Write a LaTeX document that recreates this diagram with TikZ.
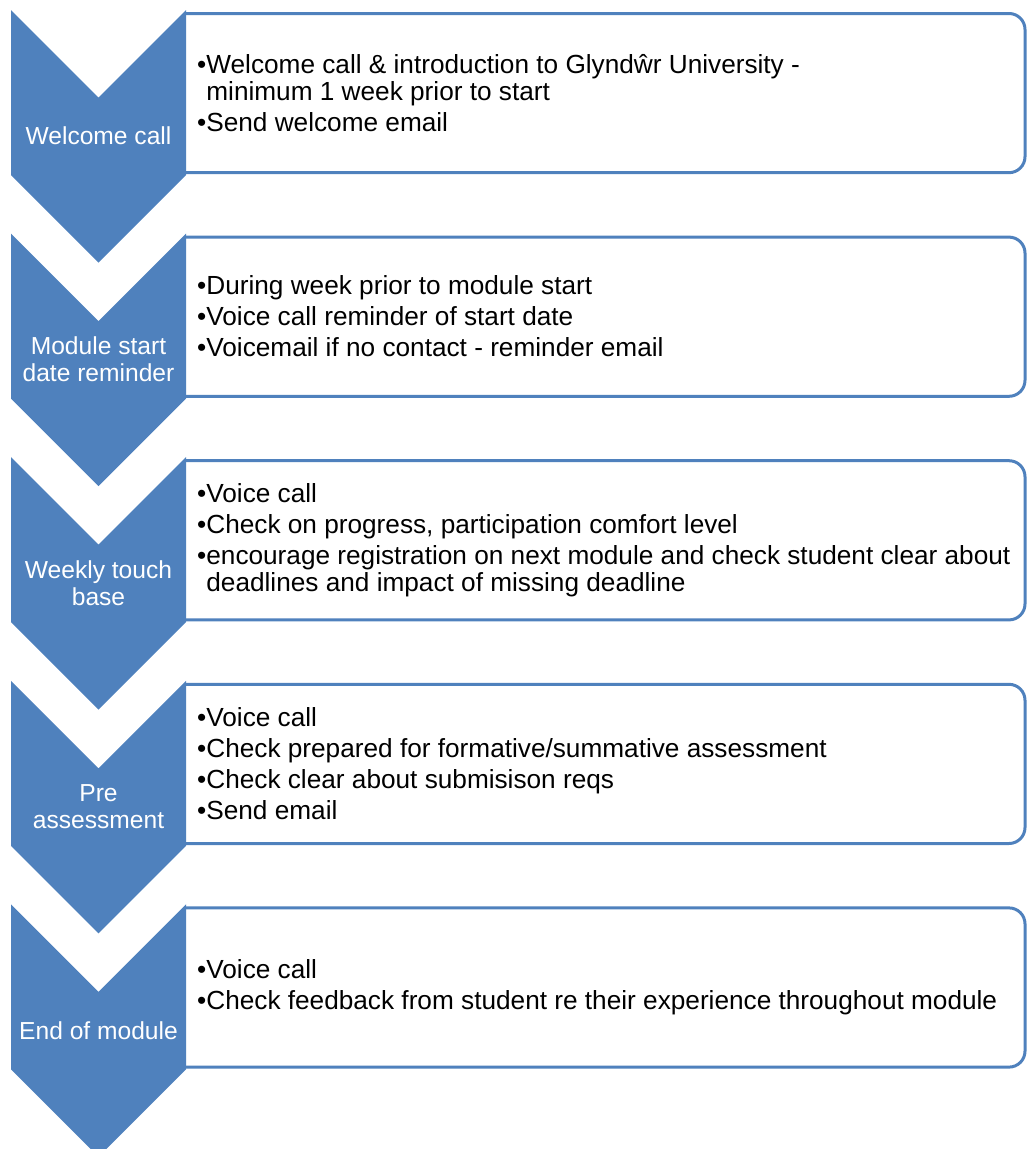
\documentclass[tikz,border=0pt]{standalone}
\usepackage{fontspec}
\setmainfont{Liberation Sans}
\definecolor{chev}{HTML}{4F81BD}
\newcommand{\bl}{\textbullet}
\newcommand{\hang}{\phantom{\textbullet}}
\begin{document}
\begin{tikzpicture}[x=1pt,y=-1pt,
  chevshape/.style={fill=chev},
  listbox/.style={draw=chev,line width=3pt,fill=white,rounded corners=16pt},
  chevlabel/.style={text=white,align=center,inner sep=0pt,font=\fontsize{24.6}{27}\selectfont},
  itemtext/.style={anchor=west,align=left,inner sep=0pt,font=\fontsize{26.2}{27}\selectfont}]
\useasboundingbox (0,0) rectangle (1027,1149);
\clip (0,0) rectangle (1027,1149);
\def\P{223.6}
% rectangles
\foreach \k in {0,...,4}{
  \pgfmathsetmacro{\Ta}{13.5+\P*\k}
  \pgfmathsetmacro{\Tb}{172.7+\P*\k}
  \filldraw[listbox] (186,\Ta) -- (1025,\Ta) -- (1025,\Tb) -- (186,\Tb);
}
% chevrons
\foreach \k in {0,...,4}{
  \pgfmathsetmacro{\T}{10+\P*\k}
  \fill[chevshape] (11,\T) -- (98.5,\T+87.5) -- (186,\T) -- (186,\T+165) -- (98.5,\T+252.5) -- (11,\T+165) -- cycle;
}
% labels
\node[chevlabel] (l1) at (98.5,136) {Welcome call};
\node[chevlabel] (l2) at (98.5,136+\P) {Module start\\date reminder};
\node[chevlabel] (l3) at (98.5,136+2*\P) {Weekly touch\\base};
\node[chevlabel] (l4) at (98.5,136+3*\P) {Pre\\assessment};
\node[chevlabel] (l5) at (98.5,136+4*\P) {End of module};
% texts
\node[itemtext] (t1) at (197,93) {\bl Welcome call \& introduction to Glynd\^wr University -\\\hang minimum 1 week prior to start\\[4pt]\bl Send welcome email};
\node[itemtext] (t2) at (197,93+\P) {\bl During week prior to module start\\[4pt]\bl Voice call reminder of start date\\[4pt]\bl Voicemail if no contact - reminder email};
\node[itemtext] (t3) at (197,93+2*\P) {\bl Voice call\\[4pt]\bl Check on progress, participation comfort level\\[4pt]\bl encourage registration on next module and check student clear about\\\hang deadlines and impact of missing deadline};
\node[itemtext] (t4) at (197,93+3*\P) {\bl Voice call\\[4pt]\bl Check prepared for formative/summative assessment\\[4pt]\bl Check clear about submisison reqs\\[4pt]\bl Send email};
\node[itemtext] (t5) at (197,93+4*\P) {\bl Voice call\\[4pt]\bl Check feedback from student re their experience throughout module};
\end{tikzpicture}
\end{document}
